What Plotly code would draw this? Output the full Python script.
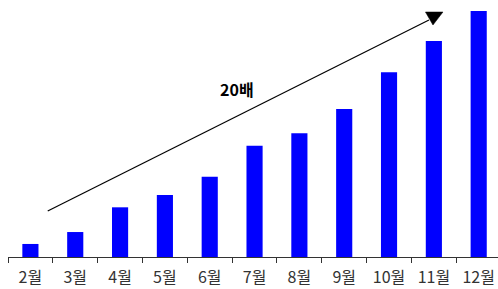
import plotly.graph_objects as go

months = ["2월", "3월", "4월", "5월", "6월", "7월", "8월", "9월", "10월", "11월", "12월"]
values = [1.06, 2.03, 4.04, 5.04, 6.53, 9.05, 10.06, 12.03, 15.02, 17.56, 20.0]
annotation_text = "20배"

OFF = 0  # body margin removed by post_script
W, H = 498, 289
L, B, T = 8.3, 32, 0
plot_w = W - L
plot_h = H - B - T

def px(x):
    return (x - OFF - L) / plot_w

def py(y):
    return (OFF + T + plot_h - y) / plot_h

fig = go.Figure(go.Bar(
    x=months, y=values,
    marker=dict(color="#0000FF", line=dict(width=0)),
    width=0.36,
    hoverinfo="skip",
))

fig.update_layout(
    width=W, height=H,
    margin=dict(l=L, r=0, t=T, b=B, autoexpand=False),
    plot_bgcolor="white", paper_bgcolor="white",
    showlegend=False,
    font=dict(family="Noto Sans CJK KR, sans-serif", size=16, color="#333"),
    xaxis=dict(
        type="category",
        range=[-0.5, -0.5 + plot_w / 44.8],
        showline=True, linecolor="#333", linewidth=1,
        ticks="outside", tickson="boundaries", ticklen=5, tickcolor="#333",
        ticklabelstandoff=6, ticklabeloverflow="allow",
        showgrid=False, tickfont=dict(size=16, color="#333"),
    ),
    yaxis=dict(range=[0, plot_h / 12.3], visible=False, showgrid=False),
    shapes=[
        dict(type="line", xref="paper", yref="paper",
             x0=px(48), y0=py(211), x1=px(429), y1=py(20),
             line=dict(color="black", width=1.2)),
        dict(type="path", xref="paper", yref="paper",
             path=f"M {px(425.5)} {py(12)} L {px(443)} {py(12)} L {px(433)} {py(25)} Z",
             fillcolor="black", line=dict(color="black", width=0.5)),
    ],
    annotations=[
        dict(text=f"<b>{annotation_text}</b>", xref="paper", yref="paper",
             x=px(237.5), y=py(75.5), showarrow=False,
             font=dict(size=16, color="black")),
    ],
)

fig.write_html(
    "out.html",
    config={"responsive": False, "displayModeBar": False},
    post_script="document.body.style.margin='0';document.body.style.overflow='hidden';",
)
